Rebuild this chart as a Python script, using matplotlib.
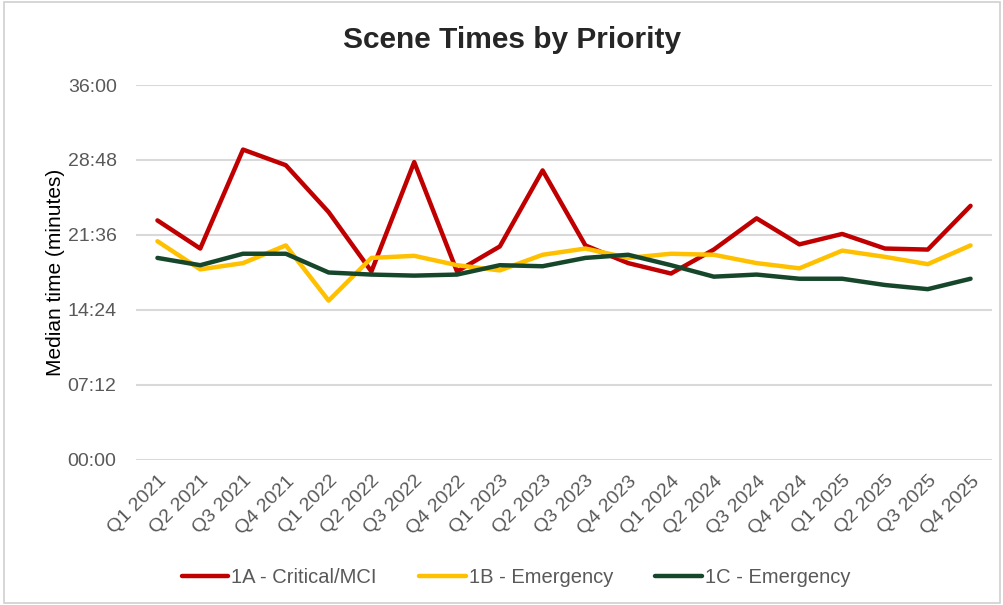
import matplotlib
matplotlib.use("Agg")
from matplotlib import pyplot as plt
from matplotlib.ticker import FuncFormatter, MultipleLocator

plt.rcParams['font.family'] = ['Liberation Sans', 'DejaVu Sans']

quarters = ["Q1 2021", "Q2 2021", "Q3 2021", "Q4 2021",
            "Q1 2022", "Q2 2022", "Q3 2022", "Q4 2022",
            "Q1 2023", "Q2 2023", "Q3 2023", "Q4 2023",
            "Q1 2024", "Q2 2024", "Q3 2024", "Q4 2024",
            "Q1 2025", "Q2 2025", "Q3 2025", "Q4 2025"]

# median scene times in minutes
p1a = [23.0, 20.3, 29.8, 28.3, 23.8, 18.1, 28.6, 18.1, 20.5, 27.8,
       20.6, 18.9, 17.9, 20.2, 23.2, 20.7, 21.7, 20.3, 20.2, 24.4]
p1b = [21.0, 18.3, 18.9, 20.6, 15.3, 19.4, 19.6, 18.7, 18.2, 19.7,
       20.3, 19.4, 19.8, 19.7, 18.9, 18.4, 20.1, 19.5, 18.8, 20.6]
p1c = [19.4, 18.7, 19.8, 19.8, 18.0, 17.8, 17.7, 17.8, 18.7, 18.6,
       19.4, 19.7, 18.7, 17.6, 17.8, 17.4, 17.4, 16.8, 16.4, 17.4]

labels = ["1A - Critical/MCI", "1B - Emergency", "1C - Emergency"]
colors = ["#C00000", "#FFC000", "#17472B"]

fig = plt.figure(figsize=(10.04, 6.05), dpi=100)
ax = fig.add_axes([0.1355, 0.2397, 0.8525, 0.6198])

x = range(len(quarters))
for ys, lab, c in zip([p1a, p1b, p1c], labels, colors):
    ax.plot(x, ys, color=c, lw=3.2, label=lab, solid_capstyle="round", solid_joinstyle="round")

def mmss(v, pos):
    secs = int(round(v * 60))
    return f"{secs // 60:02d}:{secs % 60:02d}"

ax.set_ylim(0, 36)
ax.yaxis.set_major_locator(MultipleLocator(7.2))
ax.yaxis.set_major_formatter(FuncFormatter(mmss))
ax.set_xlim(-0.5, len(quarters) - 0.5)
ax.set_xticks(list(x))
ax.set_xticklabels(quarters, rotation=45, ha="right", rotation_mode="anchor")

ax.grid(axis="y", color="#d9d9d9", lw=1.5)
ax.set_axisbelow(True)
for s in ax.spines.values():
    s.set_visible(False)
ax.tick_params(axis="both", length=0, colors="#595959", labelsize=14)
ax.tick_params(axis="y", pad=14)
ax.tick_params(axis="x", pad=9)

ax.set_ylabel("Median time (minutes)", fontsize=15, color="black", labelpad=2)
fig.text(0.51, 0.934, "Scene Times by Priority", ha="center", va="center",
         fontsize=21.5, fontweight="bold", color="#262626")

fig.legend(loc="center", bbox_to_anchor=(0.514, 0.046), ncol=3, frameon=False,
           fontsize=14.5, labelcolor="#595959", handlelength=2.3, handletextpad=0.15,
           columnspacing=2.1)

fig.patches.append(plt.Rectangle((0.004, 0.004), 0.992, 0.992, transform=fig.transFigure,
                                 fill=False, edgecolor="#d0d0d0", lw=1.2))

fig.savefig("out.png", dpi=100)
